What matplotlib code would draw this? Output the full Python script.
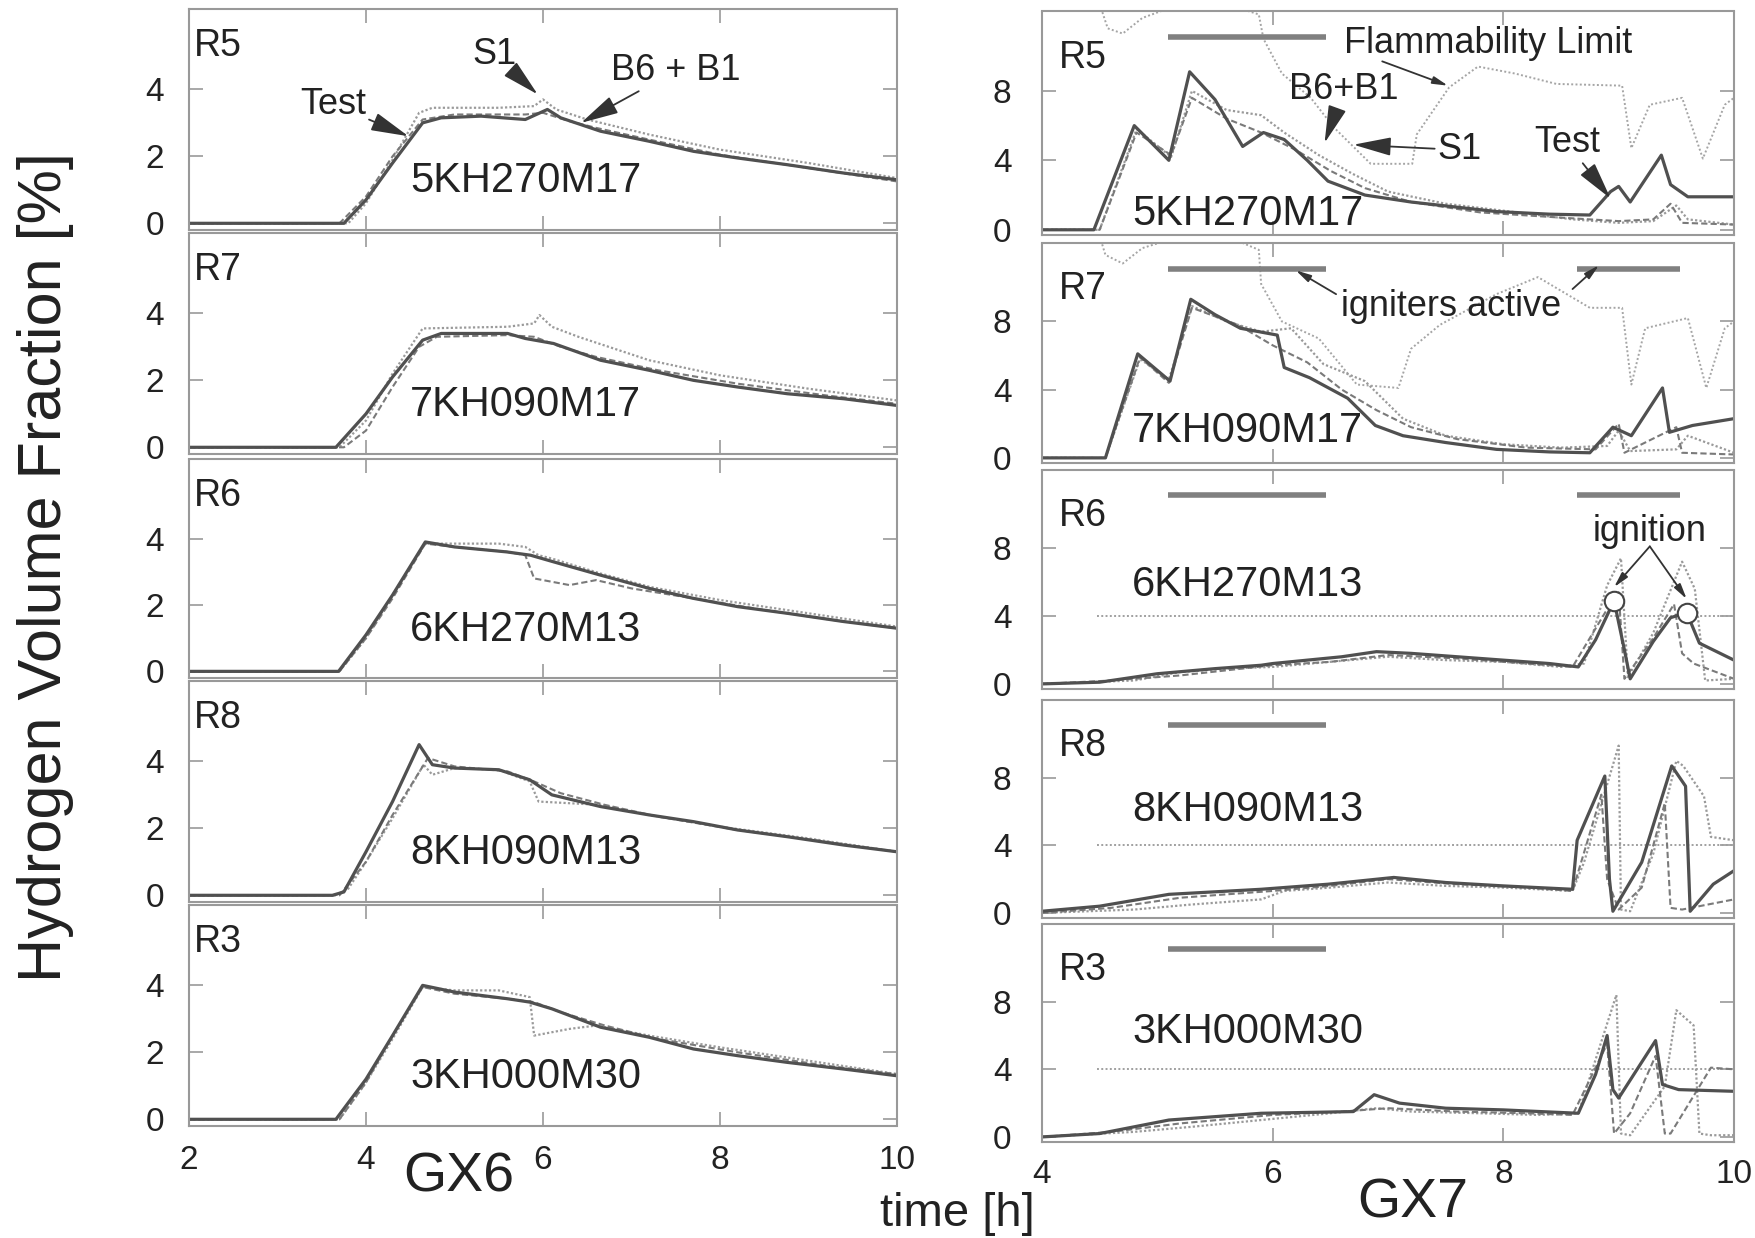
import matplotlib
matplotlib.use("Agg")
import matplotlib.pyplot as plt
from matplotlib import font_manager

# pick a Helvetica-like family if it is installed
_names = {f.name for f in font_manager.fontManager.ttflist}
FONT = "Liberation Sans" if "Liberation Sans" in _names else "DejaVu Sans"
plt.rcParams["font.family"] = [FONT, "DejaVu Sans"]

# ---------------- GX6 (left column), time [h] / H2 [%] ----------------
r5_gx6_test_t = [2, 3.75, 4.0, 4.3, 4.64, 4.85, 5.3, 5.8, 6.05, 6.2, 6.65, 7.2, 7.7, 8.2, 8.76, 9.4, 10]
r5_gx6_test_h = [0, 0, 0.7, 1.8, 3.0, 3.15, 3.2, 3.1, 3.4, 3.15, 2.75, 2.45, 2.15, 1.95, 1.75, 1.5, 1.3]
r5_gx6_s1_t = [2, 3.8, 4.0, 4.3, 4.6, 4.75, 5.5, 5.9, 6.0, 6.15, 6.5, 7.2, 8.0, 9.0, 10]
r5_gx6_s1_h = [0, 0, 0.6, 1.9, 3.3, 3.45, 3.45, 3.5, 3.7, 3.4, 3.1, 2.65, 2.2, 1.8, 1.35]
r5_gx6_b_t = [2, 3.7, 4.0, 4.3, 4.64, 5.0, 5.8, 6.0, 6.3, 6.6, 7.2, 8.0, 9.0, 10]
r5_gx6_b_h = [0, 0, 0.8, 2.0, 3.1, 3.25, 3.25, 3.3, 3.05, 2.85, 2.5, 2.05, 1.65, 1.25]

r7_gx6_test_t = [2, 3.66, 4.0, 4.3, 4.64, 4.85, 5.6, 5.8, 6.12, 6.65, 7.2, 7.7, 8.2, 8.76, 9.4, 10]
r7_gx6_test_h = [0, 0, 1.0, 2.1, 3.2, 3.4, 3.4, 3.25, 3.1, 2.6, 2.3, 2.0, 1.8, 1.6, 1.45, 1.25]
r7_gx6_s1_t = [2, 3.7, 4.0, 4.3, 4.64, 5.6, 5.9, 5.96, 6.1, 6.4, 7.2, 8.0, 9.0, 10]
r7_gx6_s1_h = [0, 0, 0.8, 2.2, 3.55, 3.6, 3.7, 3.95, 3.6, 3.3, 2.6, 2.15, 1.75, 1.4]
r7_gx6_b_t = [2, 3.75, 4.0, 4.3, 4.6, 4.8, 5.6, 5.9, 6.2, 6.6, 7.3, 8.2, 9.2, 10]
r7_gx6_b_h = [0, 0, 0.5, 1.8, 3.0, 3.3, 3.35, 3.3, 3.0, 2.7, 2.3, 1.9, 1.55, 1.3]

r6_gx6_test_t = [2, 3.69, 4.0, 4.3, 4.67, 5.0, 5.59, 5.86, 6.12, 6.65, 7.2, 7.7, 8.2, 8.76, 9.4, 10]
r6_gx6_test_h = [0, 0, 1.1, 2.3, 3.9, 3.75, 3.6, 3.5, 3.3, 2.9, 2.5, 2.2, 1.95, 1.75, 1.5, 1.3]
r6_gx6_s1_t = [2, 3.7, 4.0, 4.3, 4.67, 5.0, 5.5, 5.8, 5.95, 6.1, 6.65, 7.2, 8.0, 9.0, 10]
r6_gx6_s1_h = [0, 0, 1.0, 2.3, 3.85, 3.85, 3.85, 3.75, 3.5, 3.4, 2.95, 2.55, 2.15, 1.75, 1.35]
r6_gx6_b_t = [2, 3.7, 4.0, 4.3, 4.67, 5.0, 5.6, 5.8, 5.9, 6.3, 6.6, 7.0, 7.7, 8.5, 9.4, 10]
r6_gx6_b_h = [0, 0, 1.0, 2.2, 3.85, 3.75, 3.6, 3.5, 2.8, 2.6, 2.75, 2.5, 2.2, 1.85, 1.5, 1.3]

r8_gx6_test_t = [2, 3.62, 3.75, 4.0, 4.3, 4.6, 4.75, 5.0, 5.5, 5.85, 6.1, 6.65, 7.2, 7.7, 8.2, 8.76, 9.4, 10]
r8_gx6_test_h = [0, 0, 0.1, 1.3, 2.8, 4.5, 3.9, 3.8, 3.75, 3.45, 3.0, 2.65, 2.4, 2.2, 1.95, 1.75, 1.5, 1.3]
r8_gx6_s1_t = [2, 3.65, 3.8, 4.0, 4.3, 4.65, 4.75, 5.0, 5.5, 5.85, 5.95, 6.3, 6.65, 7.2, 8.0, 9.0, 10]
r8_gx6_s1_h = [0, 0, 0.2, 1.0, 2.3, 3.9, 3.6, 3.8, 3.75, 3.4, 2.8, 2.75, 2.7, 2.4, 2.05, 1.7, 1.3]
r8_gx6_b_t = [2, 3.7, 4.0, 4.3, 4.7, 5.0, 5.6, 5.9, 6.2, 6.7, 7.3, 8.2, 9.2, 10]
r8_gx6_b_h = [0, 0, 1.0, 2.4, 4.1, 3.85, 3.7, 3.4, 3.05, 2.7, 2.35, 1.95, 1.6, 1.3]

r3_gx6_test_t = [2, 3.66, 4.0, 4.3, 4.64, 5.0, 5.6, 5.85, 6.1, 6.65, 7.2, 7.7, 8.2, 8.76, 9.4, 10]
r3_gx6_test_h = [0, 0, 1.2, 2.5, 4.0, 3.8, 3.6, 3.5, 3.3, 2.75, 2.45, 2.1, 1.9, 1.7, 1.5, 1.3]
r3_gx6_s1_t = [2, 3.7, 4.0, 4.3, 4.64, 5.0, 5.5, 5.85, 5.9, 6.3, 6.6, 7.2, 8.0, 9.0, 10]
r3_gx6_s1_h = [0, 0, 1.1, 2.4, 3.95, 3.85, 3.85, 3.65, 2.5, 2.7, 2.8, 2.5, 2.15, 1.75, 1.35]
r3_gx6_b_t = [2, 3.7, 4.0, 4.3, 4.64, 5.0, 5.6, 5.9, 6.2, 6.7, 7.3, 8.2, 9.2, 10]
r3_gx6_b_h = [0, 0, 1.1, 2.5, 3.95, 3.75, 3.6, 3.5, 3.2, 2.8, 2.4, 2.0, 1.6, 1.35]

# ---------------- GX7 (right column) ----------------
r5_gx7_test_t = [4, 4.45, 4.8, 5.1, 5.28, 5.5, 5.74, 5.92, 6.1, 6.3, 6.48, 6.8, 7.2, 7.6, 7.94, 8.4, 8.75, 8.93, 9.0, 9.1, 9.37, 9.45, 9.6, 10]
r5_gx7_test_h = [0, 0, 6.0, 4.0, 9.1, 7.5, 4.8, 5.6, 5.2, 4.0, 2.8, 2.0, 1.6, 1.3, 1.05, 0.9, 0.85, 2.2, 2.5, 1.6, 4.3, 2.6, 1.9, 1.9]
r5_gx7_s1_t = [4, 4.5, 4.82, 5.12, 5.3, 5.6, 5.9, 6.1, 6.4, 6.7, 7.0, 7.5, 8.0, 8.6, 9.0, 9.3, 9.5, 9.6, 10]
r5_gx7_s1_h = [0, 0, 5.8, 4.2, 8.0, 6.9, 6.6, 5.6, 4.3, 3.2, 2.2, 1.5, 1.1, 0.6, 0.4, 0.5, 1.4, 0.6, 0.3]
r5_gx7_b_t = [4, 4.5, 4.82, 5.12, 5.3, 5.6, 5.9, 6.2, 6.5, 6.8, 7.2, 7.8, 8.5, 9.0, 9.3, 9.45, 9.55, 10]
r5_gx7_b_h = [0, 0, 5.6, 4.3, 7.6, 6.4, 5.6, 4.6, 3.4, 2.4, 1.6, 1.0, 0.7, 0.5, 0.6, 1.5, 0.4, 0.3]
r5_gx7_flam_t = [4.5, 4.57, 4.7, 4.87, 5.2, 5.6, 5.88, 5.92, 6.08, 6.33, 6.53, 6.85, 7.21, 7.25, 7.53, 7.78, 8.1, 8.46, 9.03, 9.11, 9.27, 9.55, 9.73, 9.92, 10]
r5_gx7_flam_h = [13.0, 11.6, 11.3, 12.2, 13.0, 13.0, 12.4, 11.0, 9.0, 7.6, 5.9, 3.8, 3.8, 5.5, 8.2, 9.4, 9.0, 8.4, 8.3, 4.7, 7.2, 7.6, 4.1, 7.2, 7.6]

r7_gx7_test_t = [4, 4.55, 4.83, 5.11, 5.29, 5.5, 5.72, 6.04, 6.1, 6.32, 6.65, 6.89, 7.13, 7.5, 7.94, 8.4, 8.75, 8.95, 9.11, 9.38, 9.44, 9.64, 10]
r7_gx7_test_h = [0, 0, 6.1, 4.5, 9.3, 8.4, 7.6, 7.2, 5.3, 4.7, 3.5, 1.9, 1.3, 0.9, 0.5, 0.35, 0.3, 1.8, 1.3, 4.1, 1.5, 1.9, 2.3]
r7_gx7_s1_t = [4, 4.55, 4.85, 5.1, 5.3, 5.6, 5.9, 6.16, 6.44, 6.8, 7.13, 7.5, 8.0, 8.5, 8.9, 9.0, 9.1, 9.5, 9.6, 10]
r7_gx7_s1_h = [0, 0, 5.8, 4.6, 8.9, 8.0, 7.4, 7.6, 5.5, 4.5, 2.3, 1.3, 0.8, 0.6, 0.7, 1.6, 0.4, 0.5, 1.3, 0.3]
r7_gx7_b_t = [4, 4.55, 4.85, 5.1, 5.3, 5.7, 6.0, 6.3, 6.6, 6.9, 7.2, 7.6, 8.2, 8.8, 9.0, 9.05, 9.5, 9.55, 10]
r7_gx7_b_h = [0, 0, 5.9, 4.4, 8.8, 7.8, 6.6, 5.6, 4.0, 2.8, 1.8, 1.1, 0.6, 0.5, 2.0, 0.3, 1.8, 0.3, 0.2]
r7_gx7_flam_t = [4.5, 4.55, 4.7, 4.87, 5.2, 5.6, 5.88, 5.9, 6.08, 6.4, 6.73, 7.09, 7.2, 7.45, 7.94, 8.3, 8.5, 8.75, 9.03, 9.11, 9.23, 9.6, 9.76, 9.92, 10]
r7_gx7_flam_h = [13.0, 11.9, 11.4, 12.3, 13.0, 13.0, 12.2, 10.2, 8.0, 7.0, 4.3, 4.1, 6.4, 7.8, 9.6, 10.6, 9.8, 8.8, 8.8, 4.3, 7.6, 8.2, 4.1, 7.6, 8.0]

r6_gx7_test_t = [4, 4.5, 5.0, 5.5, 5.9, 6.0, 6.3, 6.6, 6.9, 7.2, 7.6, 8.0, 8.4, 8.65, 8.8, 8.96, 9.05, 9.1, 9.3, 9.45, 9.59, 9.7, 10]
r6_gx7_test_h = [0, 0.1, 0.6, 0.9, 1.1, 1.2, 1.4, 1.6, 1.9, 1.8, 1.6, 1.4, 1.2, 1.0, 2.6, 4.9, 2.0, 0.3, 2.5, 3.9, 4.2, 2.4, 1.4]
r6_gx7_s1_t = [4, 4.8, 5.2, 5.6, 6.0, 6.5, 7.0, 7.5, 8.0, 8.5, 8.7, 8.9, 9.02, 9.08, 9.3, 9.55, 9.66, 9.75, 10]
r6_gx7_s1_h = [0, 0.2, 0.7, 0.9, 1.0, 1.3, 1.6, 1.4, 1.3, 1.0, 1.2, 5.8, 7.4, 0.4, 3.0, 7.2, 5.6, 0.2, 0.3]
r6_gx7_b_t = [4, 4.6, 5.2, 5.6, 6.0, 6.5, 7.0, 7.6, 8.2, 8.6, 8.9, 9.0, 9.05, 9.3, 9.48, 9.55, 9.65, 10]
r6_gx7_b_h = [0, 0.2, 0.5, 0.8, 1.1, 1.3, 1.7, 1.5, 1.2, 1.0, 4.4, 5.4, 0.3, 2.7, 4.7, 1.8, 1.2, 0.3]

r8_gx7_test_t = [4, 4.5, 5.1, 5.9, 6.48, 7.05, 7.5, 8.0, 8.6, 8.64, 8.88, 8.92, 8.95, 9.2, 9.46, 9.58, 9.62, 9.82, 10]
r8_gx7_test_h = [0.1, 0.4, 1.1, 1.4, 1.7, 2.1, 1.8, 1.6, 1.4, 4.3, 8.1, 2.0, 0.1, 3.0, 8.7, 7.5, 0.1, 1.7, 2.5]
r8_gx7_s1_t = [4, 4.8, 5.3, 5.9, 6.1, 6.5, 7.0, 7.5, 8.0, 8.6, 8.7, 9.0, 9.02, 9.1, 9.3, 9.5, 9.56, 9.74, 9.8, 10]
r8_gx7_s1_h = [0, 0.2, 0.5, 0.8, 1.3, 1.5, 1.8, 1.6, 1.5, 1.3, 3.0, 9.9, 0.2, 0.1, 3.5, 9.0, 8.7, 6.9, 4.5, 4.3]
r8_gx7_b_t = [4, 4.6, 5.2, 6.0, 6.5, 7.0, 7.6, 8.2, 8.6, 8.85, 8.9, 9.0, 9.2, 9.4, 9.45, 9.55, 10]
r8_gx7_b_h = [0, 0.3, 0.9, 1.3, 1.6, 2.0, 1.7, 1.5, 1.3, 7.0, 2.0, 0.2, 1.5, 6.5, 0.3, 0.2, 0.8]

r3_gx7_test_t = [4, 4.5, 5.1, 5.9, 6.7, 6.88, 7.1, 7.5, 8.0, 8.65, 8.8, 8.9, 8.95, 9.0, 9.32, 9.38, 9.52, 10]
r3_gx7_test_h = [0, 0.2, 1.0, 1.4, 1.5, 2.5, 2.0, 1.7, 1.6, 1.4, 3.7, 6.0, 2.8, 2.3, 5.7, 3.1, 2.8, 2.7]
r3_gx7_s1_t = [4, 4.8, 5.3, 5.9, 6.5, 6.9, 7.2, 7.8, 8.3, 8.65, 8.98, 9.02, 9.1, 9.4, 9.5, 9.65, 9.7, 9.8, 10]
r3_gx7_s1_h = [0, 0.3, 0.6, 1.0, 1.4, 1.7, 1.5, 1.4, 1.3, 1.4, 8.4, 0.2, 0.1, 3.0, 7.5, 6.6, 0.2, 0.1, 0.1]
r3_gx7_b_t = [4, 4.6, 5.2, 6.0, 6.6, 7.0, 7.6, 8.2, 8.6, 8.9, 8.96, 9.1, 9.32, 9.4, 9.45, 9.8, 10]
r3_gx7_b_h = [0, 0.3, 0.8, 1.3, 1.5, 1.7, 1.5, 1.4, 1.3, 5.5, 0.2, 1.4, 4.8, 0.2, 0.2, 4.1, 4.0]

rooms = ["R5", "R7", "R6", "R8", "R3"]
cases = ["5KH270M17", "7KH090M17", "6KH270M13", "8KH090M13", "3KH000M30"]

# igniter operation periods [h] and plain 4 % limit
igniter_periods = [(5.09, 6.46), (8.64, 9.53)]
igniter_panels = [[0], [0, 1], [0, 1], [0], [0]]
flam_limit = 4.0
ignition_t = [8.96, 9.59]
ignition_h = [4.9, 4.2]

gx6 = [
    (r5_gx6_test_t, r5_gx6_test_h, r5_gx6_s1_t, r5_gx6_s1_h, r5_gx6_b_t, r5_gx6_b_h),
    (r7_gx6_test_t, r7_gx6_test_h, r7_gx6_s1_t, r7_gx6_s1_h, r7_gx6_b_t, r7_gx6_b_h),
    (r6_gx6_test_t, r6_gx6_test_h, r6_gx6_s1_t, r6_gx6_s1_h, r6_gx6_b_t, r6_gx6_b_h),
    (r8_gx6_test_t, r8_gx6_test_h, r8_gx6_s1_t, r8_gx6_s1_h, r8_gx6_b_t, r8_gx6_b_h),
    (r3_gx6_test_t, r3_gx6_test_h, r3_gx6_s1_t, r3_gx6_s1_h, r3_gx6_b_t, r3_gx6_b_h),
]
gx7 = [
    (r5_gx7_test_t, r5_gx7_test_h, r5_gx7_s1_t, r5_gx7_s1_h, r5_gx7_b_t, r5_gx7_b_h),
    (r7_gx7_test_t, r7_gx7_test_h, r7_gx7_s1_t, r7_gx7_s1_h, r7_gx7_b_t, r7_gx7_b_h),
    (r6_gx7_test_t, r6_gx7_test_h, r6_gx7_s1_t, r6_gx7_s1_h, r6_gx7_b_t, r6_gx7_b_h),
    (r8_gx7_test_t, r8_gx7_test_h, r8_gx7_s1_t, r8_gx7_s1_h, r8_gx7_b_t, r8_gx7_b_h),
    (r3_gx7_test_t, r3_gx7_test_h, r3_gx7_s1_t, r3_gx7_s1_h, r3_gx7_b_t, r3_gx7_b_h),
]
flam_curves = {0: (r5_gx7_flam_t, r5_gx7_flam_h), 1: (r7_gx7_flam_t, r7_gx7_flam_h)}

TXT = "#222222"
FRAME = "#999999"
W, H = 1756, 1238


def box(x0, x1, top, bottom):
    return [x0 / W, 1 - bottom / H, (x1 - x0) / W, (bottom - top) / H]


def style(ax, xlim, ylim, xticks, yticks, show_x, xpad, ypad):
    ax.set_xlim(*xlim)
    ax.set_ylim(*ylim)
    ax.set_xticks(xticks)
    ax.set_yticks(yticks)
    for sp in ax.spines.values():
        sp.set_linestyle((0, (1, 1)))
        sp.set_color(FRAME)
        sp.set_linewidth(1.5)
    ax.tick_params(direction="in", length=10, width=1.2, color=FRAME,
                   top=True, right=True, labelsize=24, labelcolor=TXT)
    ax.tick_params(axis="y", pad=ypad)
    ax.tick_params(axis="x", pad=xpad, labelbottom=show_x)


def draw_runs(ax, run):
    tt, th, st, sh, bt, bh = run
    ax.plot(st, sh, color="#9a9a9a", lw=1.6, ls=(0, (1, 1)))
    ax.plot(bt, bh, color="#7a7a7a", lw=1.5, ls=(0, (3, 1.5)))
    ax.plot(tt, th, color="#505050", lw=2.3)


fig = plt.figure(figsize=(W / 100, H / 100), dpi=100)

left_rows = [(9, 230), (233, 454), (459, 678), (681, 902), (905, 1126)]
right_rows = [(11, 235), (243, 463), (470, 689), (700, 918), (924, 1142)]
arrow = dict(arrowstyle="-|>,head_length=0.9,head_width=0.22", color="#333333", lw=1.3,
             shrinkA=0, shrinkB=0)

# left column: GX6
for i, (top, bot) in enumerate(left_rows):
    ax = fig.add_axes(box(189, 897, top, bot))
    style(ax, (2, 10), (-0.2, 6.4), [2, 4, 6, 8, 10], [0, 2, 4], i == 4, 14, 18)
    draw_runs(ax, gx6[i])
    ax.text(2.05, 5.3, rooms[i], fontsize=27, color=TXT, va="center", ha="left")
    ax.text(4.5, 1.25, cases[i], fontsize=30, color=TXT, va="center", ha="left")
    if i == 0:
        ax.annotate("Test", xy=(4.48, 2.6), xytext=(3.63, 3.55), fontsize=26, color=TXT,
                    ha="center", va="center", arrowprops=arrow)
        ax.annotate("S1", xy=(5.94, 3.85), xytext=(5.45, 5.05), fontsize=26, color=TXT,
                    ha="center", va="center", arrowprops=arrow)
        ax.annotate("B6 + B1", xy=(6.43, 3.0), xytext=(7.5, 4.55), fontsize=26, color=TXT,
                    ha="center", va="center", arrowprops=arrow)

# right column: GX7
for i, (top, bot) in enumerate(right_rows):
    ax = fig.add_axes(box(1042, 1734, top, bot))
    style(ax, (4, 10), (-0.3, 12.6), [4, 6, 8, 10], [0, 4, 8], i == 4, 12, 22)
    if i in flam_curves:
        ft, fh = flam_curves[i]
        ax.plot(ft, fh, color="#a5a5a5", lw=1.4, ls=(0, (1, 1.2)))
    else:
        ax.hlines(flam_limit, 4.48, 10, color="#a0a0a0", lw=1.4, ls=(0, (1, 1.2)))
    draw_runs(ax, gx7[i])
    for k in igniter_panels[i]:
        t0, t1 = igniter_periods[k]
        ax.hlines(11.1, t0, t1, color="#808080", lw=4)
    ax.text(4.15, 9.9, rooms[i], fontsize=27, color=TXT, va="center", ha="left")
    case_h = [0.9, 1.6, 5.8, 6.1, 6.2][i]
    ax.text(4.78, case_h, cases[i], fontsize=30, color=TXT, va="center", ha="left")
    if i == 0:
        ax.text(6.62, 10.7, "Flammability Limit", fontsize=26, color=TXT, va="center", ha="left")
        ax.annotate("", xy=(7.52, 8.3), xytext=(6.95, 9.7), arrowprops=arrow)
        ax.annotate("B6+B1", xy=(6.45, 5.0), xytext=(6.62, 8.1), fontsize=26, color=TXT,
                    ha="center", va="center", arrowprops=arrow)
        ax.annotate("S1", xy=(6.7, 4.9), xytext=(7.62, 4.6), fontsize=26, color=TXT,
                    ha="center", va="center", arrowprops=arrow)
        ax.annotate("Test", xy=(8.93, 1.8), xytext=(8.55, 5.0), fontsize=26, color=TXT,
                    ha="center", va="center", arrowprops=arrow)
    if i == 1:
        ax.text(7.55, 8.9, "igniters active", fontsize=26, color=TXT, va="center", ha="center")
        ax.annotate("", xy=(6.2, 11.0), xytext=(6.55, 9.6), arrowprops=arrow)
        ax.annotate("", xy=(8.83, 11.3), xytext=(8.6, 9.9), arrowprops=arrow)
    if i == 2:
        ax.plot(ignition_t, ignition_h, "o", ms=14, mfc="white", mec="#444444", mew=1.5)
        ax.text(9.27, 8.95, "ignition", fontsize=26, color=TXT, va="center", ha="center")
        for t, h in zip(ignition_t, ignition_h):
            ax.annotate("", xy=(t, h + 0.8), xytext=(9.27, 8.1), arrowprops=arrow)

fig.text(0.026, 0.542, "Hydrogen Volume Fraction [%]", rotation=90, fontsize=44,
         color=TXT, ha="center", va="center")
fig.text(0.2614, 0.0485, "GX6", fontsize=40, color=TXT, ha="center", va="center")
fig.text(0.8047, 0.0275, "GX7", fontsize=40, color=TXT, ha="center", va="center")
fig.text(0.545, 0.0097, "time [h]", fontsize=34, color=TXT, ha="center", va="baseline")

fig.savefig("out.png", dpi=100)
